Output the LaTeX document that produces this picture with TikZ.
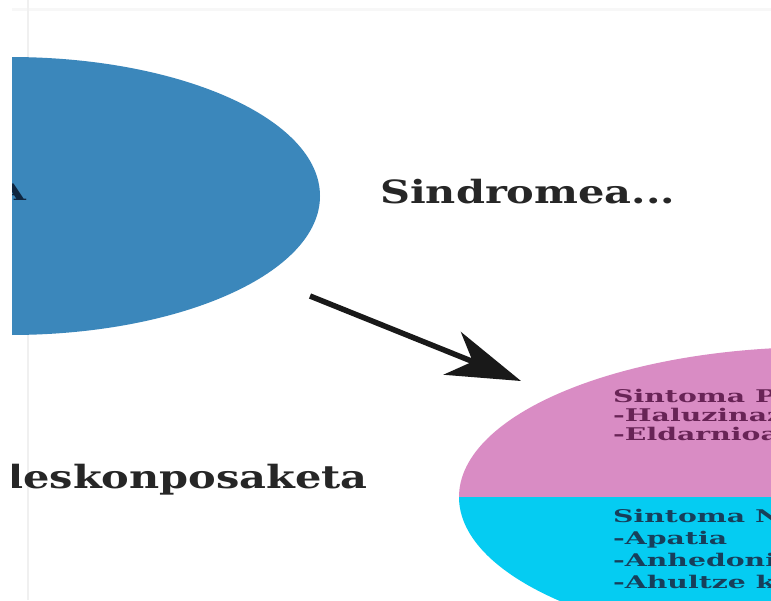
\documentclass[tikz,border=0pt]{standalone}
\usepackage{fontspec}
\usepackage{graphicx}
\usetikzlibrary{shapes.geometric,arrows.meta}
\newfontfamily\slabfont{DejaVu Serif}
\definecolor{blueell}{HTML}{3B87BB}
\definecolor{pinkell}{HTML}{D98CC4}
\definecolor{cyanell}{HTML}{05CCF2}
\definecolor{txtgray}{HTML}{262626}
\definecolor{pinktxt}{HTML}{682456}
\definecolor{cyantxt}{HTML}{173F5B}
\definecolor{navytxt}{HTML}{0F2640}
\newlength\refwbig
\newlength\refwsmall
\newcommand\bigfnt{\slabfont\bfseries\fontsize{32}{32}\selectfont}
\newcommand\smallfnt{\slabfont\bfseries\fontsize{17.5}{17.5}\selectfont}
\AtBeginDocument{%
  \global\setbox0=\hbox{\bigfnt Sindromea...}%
  \global\refwbig=\wd0
  \global\setbox0=\hbox{\smallfnt -Apatia}%
  \global\refwsmall=\wd0
  \pgfmathsetmacro\bigsxtmp{295/\refwbig}\global\let\bigsx\bigsxtmp
  \pgfmathsetmacro\smallsxtmp{114/\refwsmall}\global\let\smallsx\smallsxtmp
}
\newcommand\bigt[1]{\scalebox{\bigsx}[1]{\bigfnt #1}}
\newcommand\smallt[1]{\scalebox{\smallsx}[1]{\smallfnt #1}}
\begin{document}
\begin{tikzpicture}[x=1pt,y=-1pt,
  bigtext/.style={inner sep=0pt,text=txtgray},
  ptext/.style={inner sep=0pt,anchor=base west,text=pinktxt},
  ctext/.style={inner sep=0pt,anchor=base west,text=cyantxt},
  ellbase/.style={ellipse,inner sep=0pt,draw=none}]
\useasboundingbox (0,0) rectangle (771,600);
\fill[white] (0,0) rectangle (771,600);
\begin{scope}
\clip (12,0) rectangle (771,600);
% faint screenshot lines
\fill[black!3] (12,8) rectangle (771,11);
\draw[black!6,line width=1.5pt] (28,0) -- (28,600);
% blue ellipse
\node[ellbase,fill=blueell,minimum width=620pt,minimum height=278pt] (syn) at (10,196) {};
\node[inner sep=0pt,anchor=base east,text=navytxt] (syntxt) at (26,200) {\scalebox{1.3}{\smallt{A}}};
% pink / cyan ellipse
\node[ellbase,minimum width=722pt,minimum height=300pt,
  path picture={
    \fill[pinkell] (path picture bounding box.north west) rectangle (path picture bounding box.east);
    \fill[cyanell] (path picture bounding box.west) rectangle (path picture bounding box.south east);
  }] (sym) at (820,497) {};
% labels
\node[bigtext,anchor=base west] (sind) at (380,203) {\bigt{Sindromea...}};
\node[bigtext,anchor=base east] (desk) at (368,488) {\bigt{deskonposaketa}};
\node[ptext] (p1) at (613,402) {\smallt{Sintoma PO}};
\node[ptext] (p2) at (613,421) {\smallt{-Haluzinaz}};
\node[ptext] (p3) at (613,440) {\smallt{-Eldarnioa}};
\node[ctext] (n1) at (613,522) {\smallt{Sintoma NE}};
\node[ctext] (n2) at (613,544) {\smallt{-Apatia}};
\node[ctext] (n3) at (613,566) {\smallt{-Anhedonia}};
\node[ctext] (n4) at (613,588) {\smallt{-Ahultze k}};
% arrow
\coordinate (astart) at (310,296);
\coordinate (aend) at (521,381);
\draw[line width=5.5pt,black!90,-{Stealth[length=74pt,width=46pt,inset=22pt]}] (astart) -- (aend);
\end{scope}
\end{tikzpicture}
\end{document}
